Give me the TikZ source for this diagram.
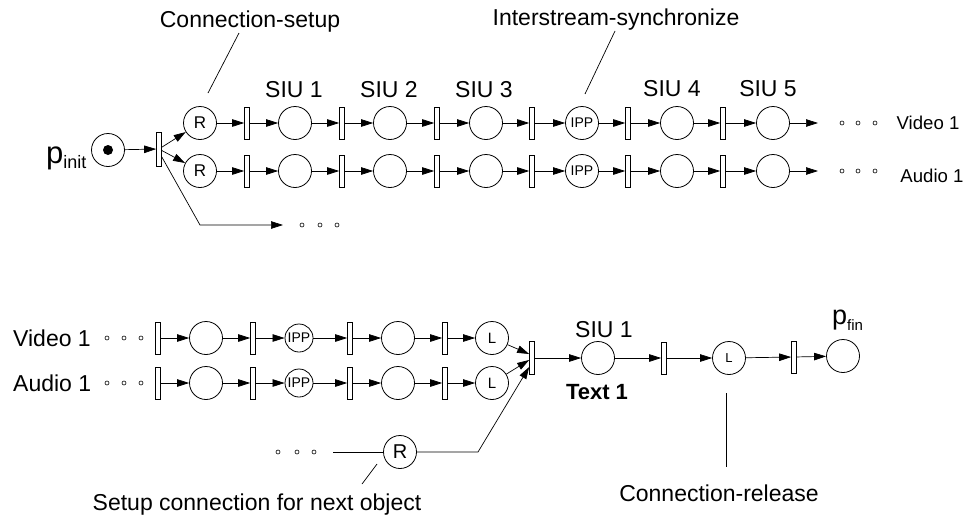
\documentclass[tikz,border=0pt]{standalone}
\usepackage{fontspec}
\setmainfont{Liberation Sans}
\usetikzlibrary{arrows.meta,calc}
\begin{document}
\begin{tikzpicture}[x=1pt,y=-1pt,
  place/.style={circle,draw,line width=0.8pt,minimum size=33pt,inner sep=0pt},
  smallplace/.style={place,minimum size=28pt},
  trans/.style={rectangle,draw,fill=white,line width=0.7pt,minimum width=5pt,minimum height=32pt,inner sep=0pt},
  arc/.style={line width=0.7pt,-{Triangle[length=12pt,width=7.5pt]}},
  lead/.style={line width=0.7pt},
  ell/.style={circle,draw,line width=0.6pt,minimum size=4pt,inner sep=0pt},
  big/.style={font=\fontsize{23}{27}\selectfont,inner sep=0pt},
  mid/.style={font=\fontsize{18.6}{22}\selectfont,inner sep=0pt},
]
\useasboundingbox (0,0) rectangle (968,517);

% ---------- initial place and fork ----------
\node[place] (pinit) at (108,150) {};
\fill (pinit.center) circle (5pt);
\node[anchor=base west,inner sep=0pt] (pinitlab) at (46,163)
  {{\fontsize{31}{31}\selectfont p}\raisebox{-5pt}{\fontsize{18}{18}\selectfont init}};
\node[trans,minimum height=34pt] (t0) at (159,149) {};
\draw[arc] (pinit) -- (t0);

% ---------- two parallel streams of the first object ----------
\foreach \r/\y in {a/123,b/171} {
  \node[place,font=\fontsize{17}{17}\selectfont] (\r1) at (200,\y) {R};
  \node[trans] (\r2) at (247,\y) {};
  \node[place] (\r3) at (295,\y) {};
  \node[trans] (\r4) at (342,\y) {};
  \node[place] (\r5) at (390,\y) {};
  \node[trans] (\r6) at (437,\y) {};
  \node[place] (\r7) at (486,\y) {};
  \node[trans] (\r8) at (532,\y) {};
  \node[place,font=\fontsize{14}{14}\selectfont] (\r9) at (582,\y) {IPP};
  \node[trans] (\r10) at (628,\y) {};
  \node[place] (\r11) at (677,\y) {};
  \node[trans] (\r12) at (723,\y) {};
  \node[place] (\r13) at (773,\y) {};
  \coordinate (\r14) at (818,\y);
  \foreach \i [evaluate=\i as \j using int(\i+1)] in {1,...,13}
    \draw[arc] (\r\i) -- (\r\j);
  \foreach \dx [count=\k] in {842,858,875}
    \node[ell] (\r e\k) at (\dx,\y) {};
}
\draw[arc] (t0) -- (a1);
\draw[arc] (t0) -- (b1);
\node[mid] (vid1) at (928,123) {Video 1};
\node[mid] (aud1) at (932,176) {Audio 1};

% further streams
\coordinate (forkbend) at (200,225);
\coordinate (forkend) at (283,225);
\draw[arc] ([yshift=-8pt]t0.east) -- (forkbend) -- (forkend);
\foreach \dx [count=\k] in {302,320,337}
  \node[ell] (fe\k) at (\dx,225) {};

% SIU labels
\node[big] (siu1) at (294,90) {SIU 1};
\node[big] (siu2) at (389,90) {SIU 2};
\node[big] (siu3) at (484,90) {SIU 3};
\node[big] (siu4) at (672,89) {SIU 4};
\node[big] (siu5) at (768,89) {SIU 5};

% annotations
\node[big] (cslab) at (250,22) {Connection-setup};
\coordinate (cs1) at (239,33);
\coordinate (cs2) at (208,93);
\draw[lead] (cs1) -- (cs2);
\node[big] (islab) at (616,20) {Interstream-synchronize};
\coordinate (is1) at (615,31);
\coordinate (is2) at (585,94);
\draw[lead] (is1) -- (is2);

% ---------- end of the streams ----------
\foreach \r/\y/\txt in {c/338/Video 1,d/383/Audio 1} {
  \node[big,anchor=west] (\r0) at (13,\y) {\txt};
  \foreach \dx [count=\k] in {107,124,141}
    \node[ell] (\r e\k) at (\dx,\y) {};
  \node[trans] (\r1) at (158,\y) {};
  \node[place] (\r2) at (206,\y) {};
  \node[trans] (\r3) at (253,\y) {};
  \node[smallplace,font=\fontsize{14}{14}\selectfont] (\r4) at (299,\y) {IPP};
  \node[trans] (\r5) at (350,\y) {};
  \node[place] (\r6) at (398,\y) {};
  \node[trans] (\r7) at (445,\y) {};
  \node[place,font=\fontsize{15}{15}\selectfont] (\r8) at (492,\y) {L};
  \foreach \i [evaluate=\i as \j using int(\i+1)] in {1,...,7}
    \draw[arc] (\r\i) -- (\r\j);
}

% merge transition
\node[trans,minimum height=33pt] (mt) at (532,358) {};
\draw[arc] (c8) -- ($(mt.west)+(0,-4)$);
\draw[arc] (d8) -- ($(mt.west)+(0,2)$);

% setup of the next object
\foreach \dx [count=\k] in {278,297,314}
  \node[ell] (ne\k) at (\dx,452) {};
\coordinate (nl) at (333,452);
\node[place,font=\fontsize{20}{20}\selectfont] (nr) at (400,452) {R};
\coordinate (nb) at (478,452);
\draw[lead] (nl) -- (nr);
\draw[arc] (nr) -- (nb) -- ($(mt.west)+(0,9)$);
\node[big] (nxlab) at (257,505) {Setup connection for next object};
\coordinate (nx1) at (377,464);
\coordinate (nx2) at (362,484);
\draw[lead] (nx1) -- (nx2);

% text stream and final place
\node[place] (s1) at (598,358) {};
\node[trans] (m2) at (664,358) {};
\node[place,font=\fontsize{13}{13}\selectfont] (m3) at (729,358) {L};
\node[trans] (m4) at (794,357) {};
\node[place] (pfin) at (843,356) {};
\draw[arc] (mt) -- (s1);
\draw[arc] (s1) -- (m2);
\draw[arc] (m2) -- (m3);
\draw[arc] (m3) -- (m4);
\draw[arc] (m4) -- (pfin);
\node[big] (tsiu) at (604,330) {SIU 1};
\node[big,font=\fontsize{22}{26}\selectfont\bfseries] (ttext) at (597,392) {Text 1};
\node[anchor=base west,inner sep=0pt] (pfinlab) at (832,324)
  {{\fontsize{27}{27}\selectfont p}\raisebox{-6pt}{\fontsize{15}{15}\selectfont fin}};

\node[big] (crlab) at (719,493) {Connection-release};
\coordinate (cr1) at (726,393);
\coordinate (cr2) at (726,467);
\draw[lead] (cr1) -- (cr2);
\end{tikzpicture}
\end{document}
